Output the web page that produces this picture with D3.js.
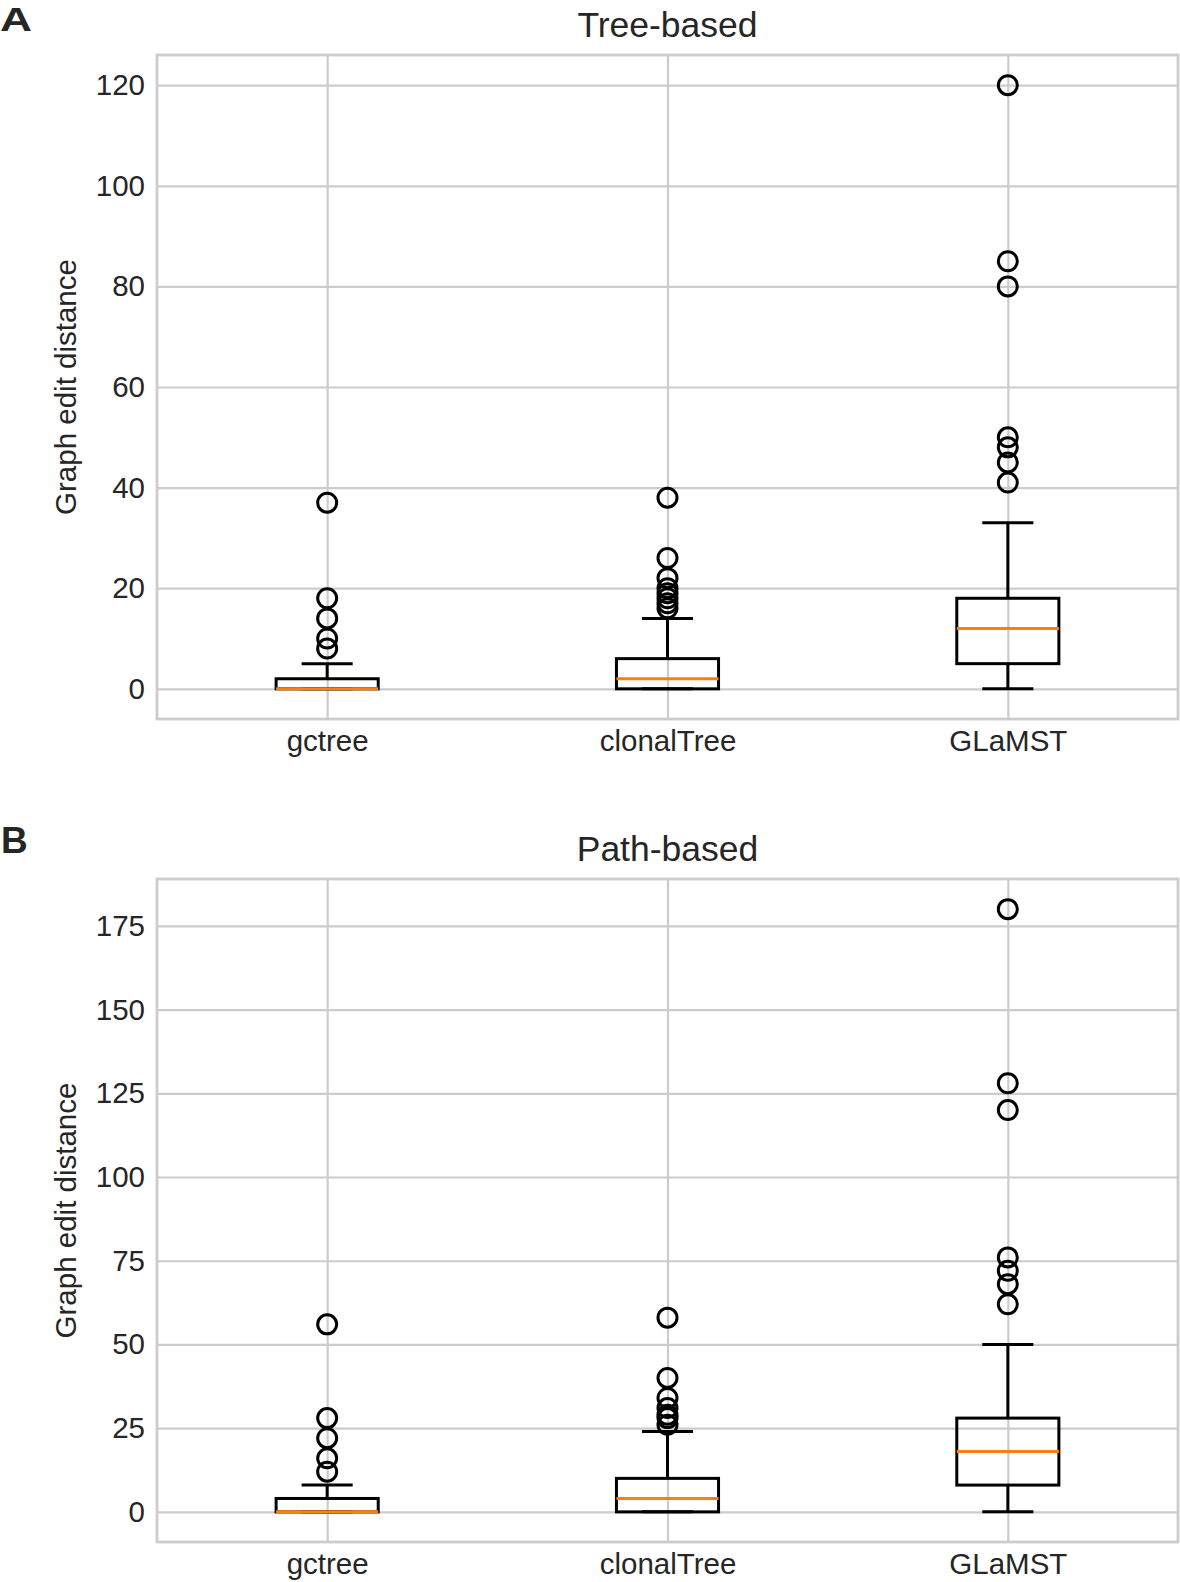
<!DOCTYPE html>
<html>
<head>
<meta charset="utf-8">
<script src="https://cdn.jsdelivr.net/npm/d3@7"></script>
<style>
  html, body { margin: 0; padding: 0; background: #ffffff; }
  svg text { font-family: "Liberation Sans", Arial, Helvetica, sans-serif; fill: #262626; }
</style>
</head>
<body>
<svg id="chart" width="1180" height="1582"></svg>
<script>
// ---- Data ----
const categories = ["gctree", "clonalTree", "GLaMST"];

// Panel A: Tree-based
const treeWhiskerLow  = [0, 0, 0];
const treeQ1          = [0, 0, 5];
const treeMedian      = [0, 2, 12];
const treeQ3          = [2, 6, 18];
const treeWhiskerHigh = [5, 14, 33];
const treeOutliers    = [
  [37, 18, 14, 10, 8],
  [38, 26, 22, 20, 19, 18, 17, 16],
  [120, 85, 80, 50, 48, 45, 41]
];
const treeTicks = [0, 20, 40, 60, 80, 100, 120];

// Panel B: Path-based
const pathWhiskerLow  = [0, 0, 0];
const pathQ1          = [0, 0, 8];
const pathMedian      = [0, 4, 18];
const pathQ3          = [4, 10, 28];
const pathWhiskerHigh = [8, 24, 50];
const pathOutliers    = [
  [56, 28, 22, 16, 12],
  [58, 40, 34, 31, 29, 28, 26],
  [180, 128, 120, 76, 72, 68, 62]
];
const pathTicks = [0, 25, 50, 75, 100, 125, 150, 175];

// ---- Drawing ----
const svg = d3.select("#chart");
const gridColor = "#cccccc";
const tickFont = 29.5;

function drawPanel(cfg) {
  const { top, bottom, left, right, domain, ticks, title, titleBaseline,
          low, q1, med, q3, high, outliers, xLabelBaseline } = cfg;
  const x = d3.scaleLinear().domain([0.5, 3.5]).range([left, right]);
  const y = d3.scaleLinear().domain(domain).range([bottom, top]);
  const g = svg.append("g");

  const yAxis = g.append("g")
    .attr("transform", `translate(${left},0)`)
    .call(d3.axisLeft(y).tickValues(ticks).tickSize(-(right - left)).tickPadding(12));
  yAxis.select(".domain").remove();
  yAxis.selectAll(".tick line").attr("stroke", gridColor).attr("stroke-width", 2.2);
  yAxis.selectAll(".tick text")
    .style("font-size", tickFont + "px")
    .attr("fill", "#262626");

  const xAxis = g.append("g")
    .attr("transform", `translate(0,${bottom})`)
    .call(d3.axisBottom(x).tickValues([1, 2, 3]).tickSize(-(bottom - top))
      .tickFormat(d => categories[d - 1]).tickPadding(0));
  xAxis.select(".domain").remove();
  xAxis.selectAll(".tick line").attr("stroke", gridColor).attr("stroke-width", 2.2);
  xAxis.selectAll(".tick text")
    .style("font-size", tickFont + "px")
    .attr("fill", "#262626")
    .attr("dy", null)
    .attr("y", xLabelBaseline - bottom);

  g.append("rect")
    .attr("x", left).attr("y", top)
    .attr("width", right - left).attr("height", bottom - top)
    .attr("fill", "none").attr("stroke", gridColor).attr("stroke-width", 2.8);

  const bw = 0.3, cw = 0.15;
  const lw = 3;
  categories.forEach((c, i) => {
    const cx = i + 1;
    const bg = g.append("g");
    bg.append("line").attr("x1", x(cx)).attr("x2", x(cx)).attr("y1", y(q3[i])).attr("y2", y(high[i]))
      .attr("stroke", "#000").attr("stroke-width", lw);
    bg.append("line").attr("x1", x(cx)).attr("x2", x(cx)).attr("y1", y(q1[i])).attr("y2", y(low[i]))
      .attr("stroke", "#000").attr("stroke-width", lw);
    [high[i], low[i]].forEach(v => {
      bg.append("line").attr("x1", x(cx - cw / 2)).attr("x2", x(cx + cw / 2))
        .attr("y1", y(v)).attr("y2", y(v))
        .attr("stroke", "#000").attr("stroke-width", lw);
    });
    bg.append("rect")
      .attr("x", x(cx - bw / 2)).attr("y", y(q3[i]))
      .attr("width", x(cx + bw / 2) - x(cx - bw / 2))
      .attr("height", y(q1[i]) - y(q3[i]))
      .attr("fill", "none").attr("stroke", "#000").attr("stroke-width", lw);
    bg.append("line").attr("x1", x(cx - bw / 2)).attr("x2", x(cx + bw / 2))
      .attr("y1", y(med[i])).attr("y2", y(med[i]))
      .attr("stroke", "#ff7f0e").attr("stroke-width", lw);
    bg.selectAll("circle.o").data(outliers[i]).enter().append("circle")
      .attr("cx", x(cx)).attr("cy", d => y(d)).attr("r", 9.5)
      .attr("fill", "none").attr("stroke", "#000").attr("stroke-width", lw);
  });

  g.append("text")
    .attr("x", (left + right) / 2).attr("y", titleBaseline)
    .attr("text-anchor", "middle")
    .style("font-size", "35.5px")
    .text(title);

  const midY = (top + bottom) / 2;
  g.append("text")
    .attr("transform", `translate(76,${midY}) rotate(-90)`)
    .attr("text-anchor", "middle")
    .style("font-size", tickFont + "px")
    .text("Graph edit distance");
}

drawPanel({
  top: 55, bottom: 719, left: 157, right: 1178,
  domain: [-6, 126], ticks: treeTicks, title: "Tree-based", titleBaseline: 37,
  low: treeWhiskerLow, q1: treeQ1, med: treeMedian, q3: treeQ3, high: treeWhiskerHigh,
  outliers: treeOutliers, xLabelBaseline: 751
});
drawPanel({
  top: 879, bottom: 1542, left: 157, right: 1178,
  domain: [-9, 189], ticks: pathTicks, title: "Path-based", titleBaseline: 861,
  low: pathWhiskerLow, q1: pathQ1, med: pathMedian, q3: pathQ3, high: pathWhiskerHigh,
  outliers: pathOutliers, xLabelBaseline: 1574
});

svg.append("text").attr("x", 0).attr("y", 31)
  .attr("textLength", 32).attr("lengthAdjust", "spacingAndGlyphs")
  .style("font-size", "33px").style("font-weight", "bold").attr("fill", "#000")
  .text("A");
svg.append("text").attr("x", 1).attr("y", 853)
  .style("font-size", "37px").style("font-weight", "bold").attr("fill", "#000")
  .text("B");
</script>
</body>
</html>
